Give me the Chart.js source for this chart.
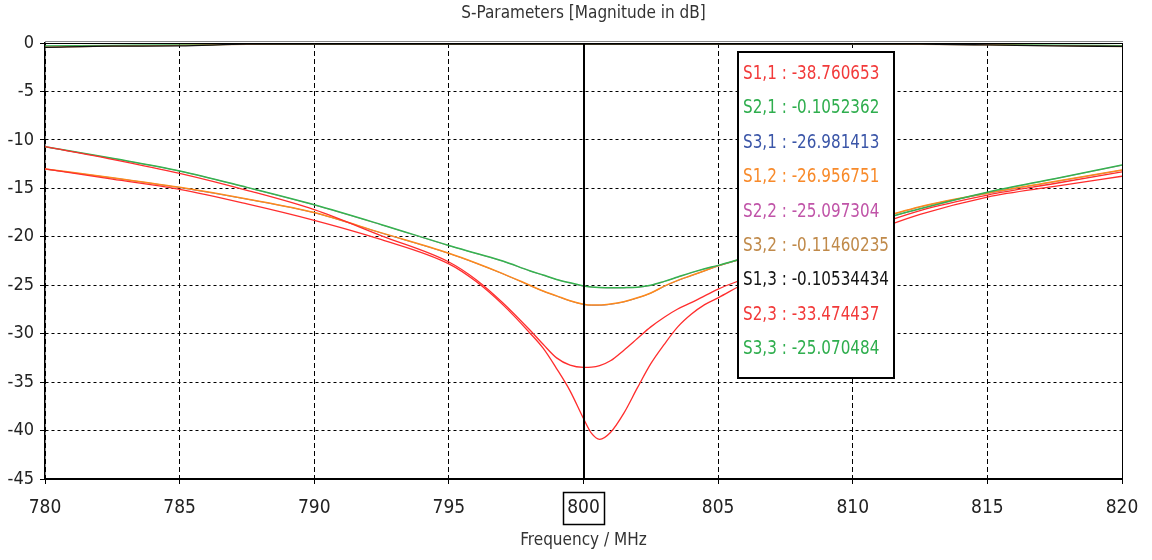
<!DOCTYPE html>
<html><head><meta charset="utf-8">
<script src="https://cdn.jsdelivr.net/npm/chart.js@4.4.1/dist/chart.umd.min.js"></script>
<style>html,body{margin:0;padding:0;background:#fff;}#wrap{width:1152px;height:560px;}</style>
</head><body><div id="wrap"><canvas id="c" width="1152" height="560"></canvas></div>
<script>
// ---- data ----
const freq = [780,782.5,785,787.5,790,792.5,795,796,797,798,798.5,799,799.5,800,800.3,800.6,801,801.5,802,802.5,803,803.5,804,804.5,805,806,807.5,810,812.5,815,817.5,820];
const s33 = [-10.7,-11.9,-13.2,-14.9,-16.7,-18.75,-20.9,-21.7,-22.5,-23.5,-23.95,-24.4,-24.75,-25.07,-25.18,-25.23,-25.26,-25.25,-25.2,-25.0,-24.6,-24.15,-23.7,-23.3,-22.95,-22.15,-20.95,-19.0,-17.1,-15.4,-14.0,-12.6];
const s22 = [-10.72,-11.92,-13.22,-14.92,-16.72,-18.77,-20.92,-21.72,-22.52,-23.52,-23.97,-24.42,-24.77,-25.10,-25.2,-25.25,-25.28,-25.27,-25.22,-25.02,-24.62,-24.17,-23.72,-23.32,-22.97,-22.17,-20.97,-19.02,-17.12,-15.42,-14.02,-12.62];
const s12 = [-13.0,-13.9,-14.9,-16.1,-17.5,-19.6,-21.7,-22.7,-23.8,-25.0,-25.6,-26.1,-26.6,-26.96,-27.05,-27.05,-26.95,-26.7,-26.3,-25.8,-25.1,-24.5,-24.0,-23.5,-23.0,-22.2,-21.0,-18.9,-16.9,-15.5,-14.3,-13.1];
const s31 = [-13.02,-13.92,-14.92,-16.12,-17.52,-19.62,-21.72,-22.72,-23.82,-25.02,-25.62,-26.12,-26.62,-26.98,-27.07,-27.07,-26.97,-26.72,-26.32,-25.82,-25.12,-24.52,-24.02,-23.52,-23.02,-22.22,-21.02,-18.92,-16.92,-15.52,-14.32,-13.12];
const s23 = [-10.7,-12.0,-13.45,-15.2,-17.2,-19.9,-22.6,-24.4,-26.8,-29.6,-31.1,-32.5,-33.25,-33.47,-33.45,-33.3,-32.8,-31.7,-30.5,-29.3,-28.3,-27.45,-26.8,-26.1,-25.4,-24.3,-22.6,-19.7,-17.3,-15.7,-14.5,-13.3];
const s11 = [-13.0,-14.05,-15.1,-16.6,-18.3,-20.3,-22.8,-24.6,-27.0,-29.9,-31.5,-33.6,-35.9,-38.76,-40.3,-40.9,-40.2,-38.2,-35.6,-33.1,-31.1,-29.3,-28.0,-27.0,-26.3,-24.8,-23.0,-20.2,-17.7,-15.9,-14.8,-13.75];
const s21 = [-0.3,-0.25,-0.2,-0.12,-0.11,-0.105,-0.105,-0.105,-0.105,-0.105,-0.105,-0.105,-0.105,-0.105,-0.105,-0.105,-0.105,-0.105,-0.105,-0.105,-0.105,-0.105,-0.105,-0.105,-0.105,-0.105,-0.105,-0.11,-0.12,-0.15,-0.22,-0.28];
const s32 = [-0.42,-0.32,-0.25,-0.14,-0.12,-0.115,-0.115,-0.115,-0.115,-0.115,-0.115,-0.115,-0.115,-0.115,-0.115,-0.115,-0.115,-0.115,-0.115,-0.115,-0.115,-0.115,-0.115,-0.115,-0.115,-0.115,-0.115,-0.12,-0.13,-0.18,-0.28,-0.36];
const s13 = [-0.45,-0.33,-0.3,-0.12,-0.105,-0.105,-0.105,-0.105,-0.105,-0.105,-0.105,-0.105,-0.105,-0.105,-0.105,-0.105,-0.105,-0.105,-0.105,-0.105,-0.105,-0.105,-0.105,-0.105,-0.105,-0.105,-0.105,-0.105,-0.12,-0.2,-0.3,-0.35];
const xTicks = [780,785,790,795,800,805,810,815,820];
const yTicks = [0,-5,-10,-15,-20,-25,-30,-35,-40,-45];
const markerFreq = 800;
const legendLabels = ['S1,1','S2,1','S3,1','S1,2','S2,2','S3,2','S1,3','S2,3','S3,3'];
const legendValues = ['-38.760653','-0.1052362','-26.981413','-26.956751','-25.097304','-0.11460235','-0.10534434','-33.474437','-25.070484'];
const legendColors = ['#f23a3a','#2fae4e','#3b56a8','#f88a2a','#c054a8','#c08a4a','#151515','#f23a3a','#2fae4e'];
const titleText = 'S-Parameters [Magnitude in dB]';
const xTitle = 'Frequency / MHz';

const FONT = "'Liberation Sans Narrow','DejaVu Sans Condensed','Liberation Sans',sans-serif";
const pts = a => freq.map((f,i)=>({x:f,y:a[i]}));
const series = [
  {label:'S1,1', data:s11, color:'#ff2d2d', order:1, w:1.3},
  {label:'S2,1', data:s21, color:'#2fae4e', order:9, w:1.3},
  {label:'S3,1', data:s31, color:'#3b56c8', order:6, w:0.8},
  {label:'S1,2', data:s12, color:'#ff8a1a', order:5, w:1.5},
  {label:'S2,2', data:s22, color:'#c054a8', order:4, w:0.8},
  {label:'S3,2', data:s32, color:'#c08a4a', order:8, w:1.3},
  {label:'S1,3', data:s13, color:'#111111', order:7, w:1.3},
  {label:'S2,3', data:s23, color:'#ff2d2d', order:2, w:1.3},
  {label:'S3,3', data:s33, color:'#34b44e', order:3, w:1.5}
];

const overlay = {
  id:'overlay',
  afterDatasetsDraw(chart){
    const {ctx, chartArea:a, scales:{x}} = chart;
    ctx.save();
    // frame
    ctx.strokeStyle='#000'; ctx.lineWidth=1;
    ctx.beginPath(); ctx.moveTo(a.right+0.5,a.top); ctx.lineTo(a.right+0.5,a.bottom); ctx.stroke();
    ctx.strokeStyle='#888'; ctx.beginPath(); ctx.moveTo(a.left,a.top-1.5); ctx.lineTo(a.right+1,a.top-1.5); ctx.stroke();
    ctx.strokeStyle='#000'; ctx.beginPath(); ctx.moveTo(a.left,a.top+0.5); ctx.lineTo(a.right+1,a.top+0.5); ctx.stroke();
    // marker
    const mx = Math.round(x.getPixelForValue(markerFreq));
    ctx.lineWidth=2; ctx.beginPath(); ctx.moveTo(mx,a.top); ctx.lineTo(mx,a.bottom); ctx.stroke();
    // marker label box
    ctx.lineWidth=1.5; ctx.strokeRect(mx-20.5, a.bottom+13.5, 41, 32);
    // legend box
    const bx=a.left+693, by=a.top+9, bw=156, bh=326;
    ctx.fillStyle='#fff'; ctx.fillRect(bx,by,bw,bh);
    ctx.lineWidth=2; ctx.strokeStyle='#000'; ctx.strokeRect(bx,by,bw,bh);
    ctx.font = "19px " + FONT; ctx.textBaseline='middle'; ctx.textAlign='left';
    legendLabels.forEach((l,i)=>{
      ctx.save();
      ctx.translate(bx+5, by+22+i*34.4);
      ctx.scale(0.89,1);
      ctx.fillStyle = legendColors[i];
      ctx.fillText(l+' : '+legendValues[i], 0, 0);
      ctx.restore();
    });
    ctx.restore();
  }
};

new Chart(document.getElementById('c'), {
  type:'line',
  data:{datasets: series.map(s=>({label:s.label, data:pts(s.data), borderColor:s.color, backgroundColor:s.color, borderWidth:s.w, pointRadius:0, tension:0.35, cubicInterpolationMode:'monotone', fill:false, order:s.order}))},
  options:{
    responsive:false, animation:false, devicePixelRatio:1,
    layout:{padding:{left:0,right:30,top:0,bottom:0}},
    plugins:{
      legend:{display:false}, tooltip:{enabled:false},
      title:{display:true, text:titleText, fullSize:false, color:'#333', font:{family:FONT, size:17, lineHeight:1.2, weight:'normal'}, padding:{top:3,bottom:19.6}}
    },
    scales:{
      x:{type:'linear', min:780, max:820,
        afterBuildTicks(s){ s.ticks = xTicks.map(v=>({value:v})); },
        afterFit(s){ s.height = 81; },
        ticks:{color:'#222', font:{family:FONT,size:19}, padding:13, maxRotation:0, autoSkip:false},
        grid:{color:'#000', lineWidth:1, tickLength:5, drawTicks:true},
        border:{display:true, color:'#000', width:2, dash:[5,3]},
        title:{display:true, text:xTitle, color:'#333', font:{family:FONT,size:17,lineHeight:1.2}, padding:{top:0,bottom:9}}
      },
      y:{type:'linear', min:-45, max:0,
        afterBuildTicks(s){ s.ticks = yTicks.map(v=>({value:v})); },
        afterFit(s){ s.width = 45; },
        ticks:{color:'#222', font:{family:FONT,size:18}, padding:6, autoSkip:false},
        grid:{color:'#000', lineWidth:1, tickLength:5, drawTicks:true},
        border:{display:true, color:'#000', width:1.5, dash:[3,3]}
      }
    }
  },
  plugins:[overlay]
});
</script></body></html>
